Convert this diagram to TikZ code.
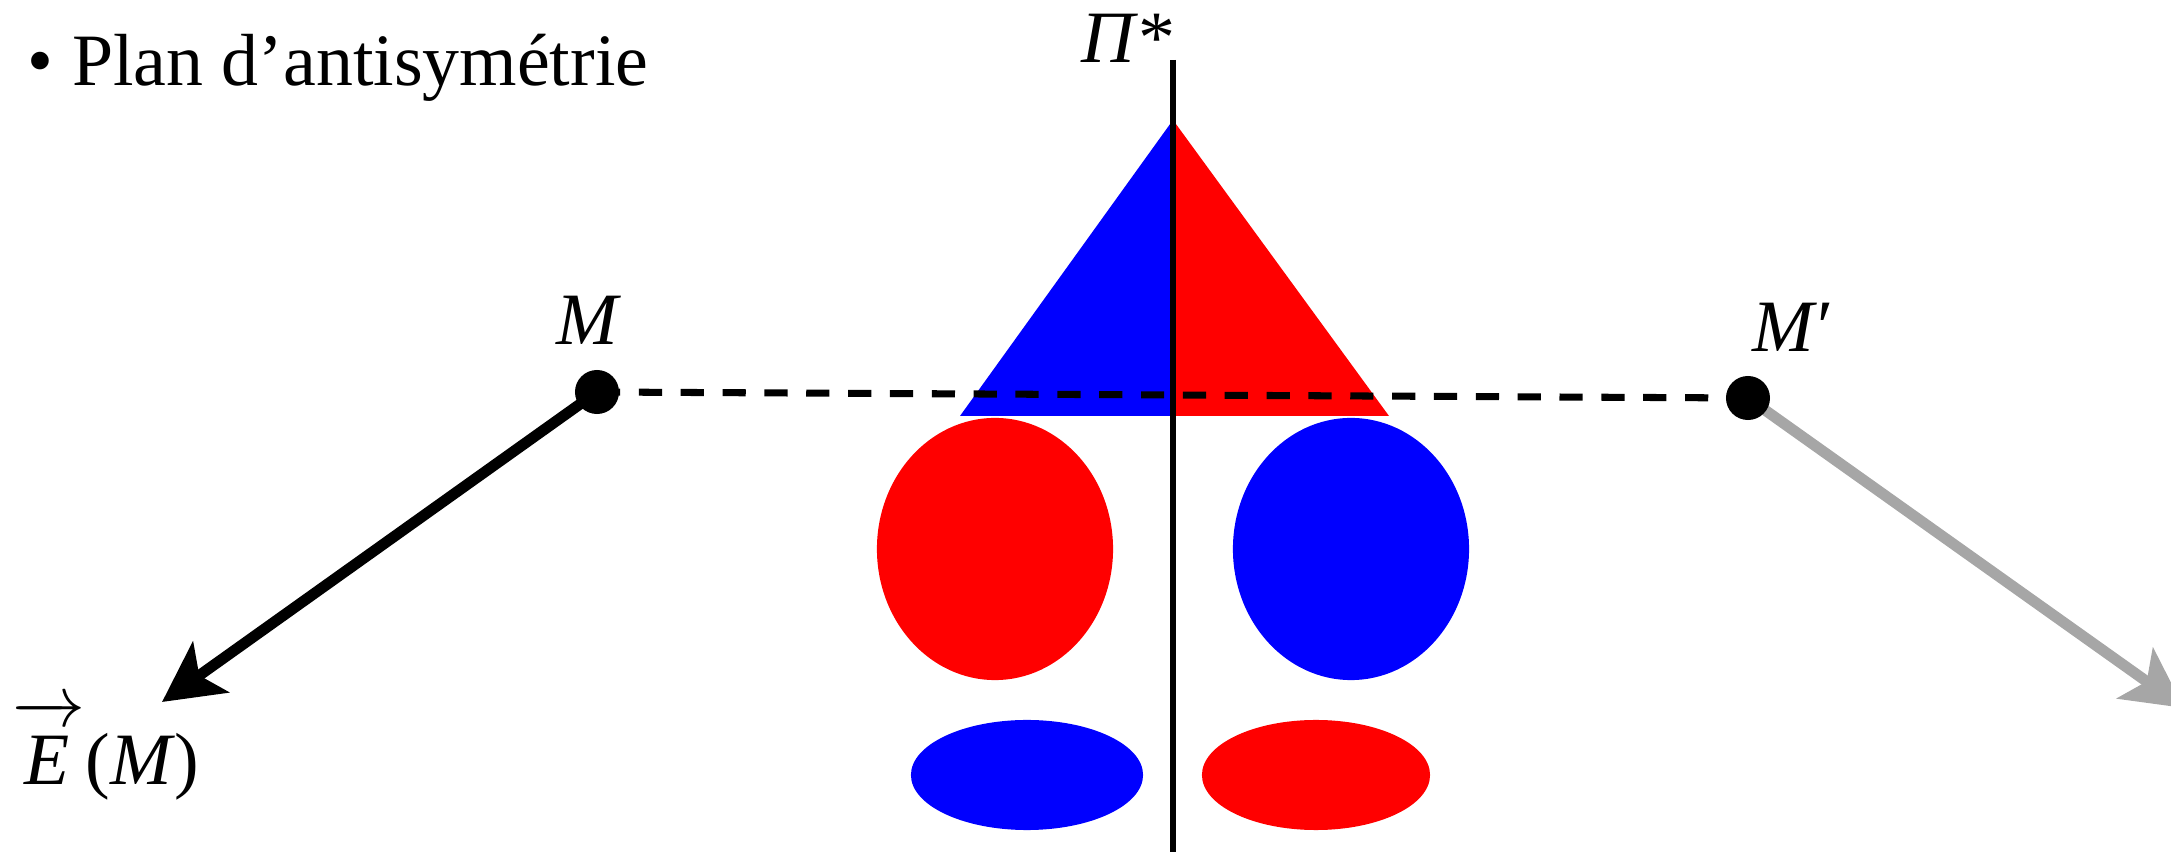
\documentclass[tikz,border=0pt]{standalone}
\usepackage{fontspec}
\setmainfont{Liberation Serif}
\usetikzlibrary{arrows.meta}
\definecolor{arrowgray}{RGB}{166,166,166}
\begin{document}
\begin{tikzpicture}[x=0.01cm,y=-0.01cm,
  lbl/.style={inner sep=0pt,anchor=base,font=\fontsize{21}{25}\selectfont},
  dot/.style={circle,fill=black,inner sep=0pt,minimum size=0.44cm},
  vecarrow/.style={line width=3.1pt,-{Stealth[length=17pt,width=17.5pt,inset=4pt]}},
  planline/.style={line width=1.8pt},
  linkline/.style={line width=2pt,dash pattern=on 6.6pt off 5.3pt}]
\useasboundingbox (0,0) rectangle (2171,852);
% title
\node[lbl,anchor=base west] (title) at (27,86) {• Plan d’antisymétrie};
% triangle
\fill[blue] (1173,120) -- (960,416) -- (1173,416) -- cycle;
\fill[red] (1173,120) -- (1389,416) -- (1173,416) -- cycle;
% ellipses
\fill[red] (995,549) ellipse [x radius=1.18cm, y radius=1.31cm];
\fill[blue] (1351,549) ellipse [x radius=1.18cm, y radius=1.31cm];
\fill[blue] (1027,775) ellipse [x radius=1.16cm, y radius=0.55cm];
\fill[red] (1316,775) ellipse [x radius=1.14cm, y radius=0.55cm];
% plane
\coordinate (ptop) at (1173,60);
\coordinate (pbot) at (1173,852);
\draw[planline] (ptop) -- (pbot);
\node[lbl] (pi) at (1128,63) {\textit{Π}*};
% points
\coordinate (Mc) at (597,392);
\coordinate (Mpc) at (1748,398);
\coordinate (Etip) at (162,702);
\coordinate (Eptip) at (2184,708);
\draw[linkline] (Mc) -- (Mpc);
\draw[vecarrow] (Mc) -- (Etip);
\draw[vecarrow,arrowgray] (Mpc) -- (Eptip);
\node[dot] (M) at (Mc) {};
\node[dot] (Mp) at (Mpc) {};
\node[lbl] (Mlbl) at (589,345) {\textit{M}};
\node[lbl] (Mplbl) at (1793,352) {\textit{M}′};
\node[lbl] (Elbl) at (106,785) {$\overrightarrow{\raisebox{0pt}[\dimexpr\height+4pt\relax]{\itshape E\kern1pt}}$(\textit{M})};
\end{tikzpicture}
\end{document}
